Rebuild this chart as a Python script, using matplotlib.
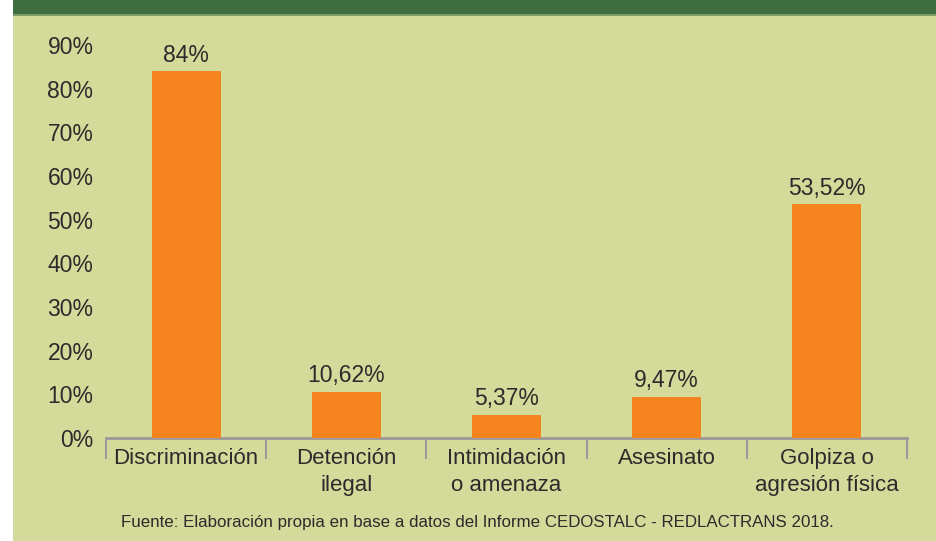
import matplotlib
matplotlib.use("Agg")
import matplotlib.pyplot as plt
from matplotlib.patches import Rectangle
import numpy as np

# ── Данные ──
categories = ["Discriminación", "Detención\nilegal", "Intimidación\no amenaza",
              "Asesinato", "Golpiza o\nagresión física"]
values = [84.0, 10.62, 5.37, 9.47, 53.52]
value_labels = ["84%", "10,62%", "5,37%", "9,47%", "53,52%"]
y_ticks = [0, 10, 20, 30, 40, 50, 60, 70, 80, 90]
source_text = ("Fuente: Elaboración propia en base a datos del Informe "
               "CEDOSTALC - REDLACTRANS 2018.")

plt.rcParams["font.family"] = ["Liberation Sans", "DejaVu Sans"]
TXT = "#2b2b2b"

W, H = 936, 541
fig = plt.figure(figsize=(W / 100, H / 100), dpi=100)
fig.patch.set_facecolor("#ffffff")

# ── Фон панели и зелёная шапка (под осями) ──
for (y0, h, col) in [(0, 1, "#d4da9a"),
                     (1 - 16 / H, 16 / H, "#7e9c68"),
                     (1 - 14 / H, 14 / H, "#3e6d40")]:
    fig.patches.append(Rectangle((13 / W, y0), 1, h, transform=fig.transFigure,
                                 facecolor=col, edgecolor="none", zorder=-5))

left, right = 106 / W, 907 / W
bottom, top = 1 - 438 / H, 1 - 45 / H
ax = fig.add_axes([left, bottom, right - left, top - bottom])
ax.set_facecolor("none")

x = np.arange(len(categories)) + 0.5
ax.bar(x, values, width=0.43, color="#f5841f", zorder=3)

for xi, v, lab in zip(x, values, value_labels):
    ax.annotate(lab, xy=(xi, v), xytext=(0, 3), textcoords="offset points",
                ha="center", va="bottom", fontsize=16.5, color=TXT)

ax.set_xlim(0, len(categories))
ax.set_ylim(0, 90)

ax.set_yticks(y_ticks)
ax.set_yticklabels([f"{t}%" for t in y_ticks], fontsize=16.5, color=TXT)
ax.tick_params(axis="y", length=0, pad=9)

ax.set_xticks(x)
ax.set_xticklabels(categories, fontsize=16, color=TXT, linespacing=1.4)
ax.tick_params(axis="x", which="major", length=0, pad=7)
ax.set_xticks(np.arange(len(categories) + 1), minor=True)
ax.tick_params(axis="x", which="minor", length=15, width=1.5,
               color="#9a9a9a", direction="out")

for name, s in ax.spines.items():
    s.set_visible(name == "bottom")
ax.spines["bottom"].set_color("#9a9a9a")
ax.spines["bottom"].set_linewidth(2.0)

fig.text(477 / W, 1 - 523 / H, source_text, ha="center", va="center",
         fontsize=12.2, color=TXT)

fig.savefig("out.png", dpi=100, facecolor=fig.get_facecolor())
